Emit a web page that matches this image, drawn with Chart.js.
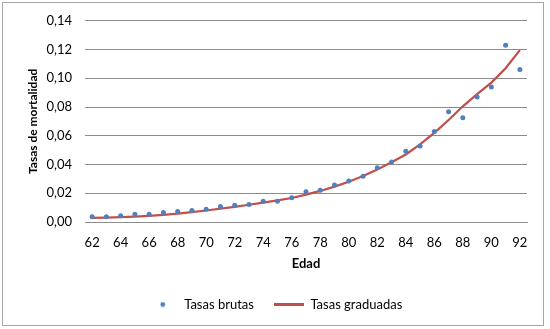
<!DOCTYPE html>
<html>
<head>
<meta charset="utf-8">
<script src="https://cdn.jsdelivr.net/npm/chart.js@4"></script>
<style>
  html, body { margin: 0; padding: 0; background: #fff; }
  #wrap { width: 550px; height: 329px; }
</style>
</head>
<body>
<div id="wrap"><canvas id="grafico" width="550" height="329"></canvas></div>
<script>
// edades 62..92
const edades = [62, 63, 64, 65, 66, 67, 68, 69, 70, 71, 72, 73, 74, 75, 76, 77,
  78, 79, 80, 81, 82, 83, 84, 85, 86, 87, 88, 89, 90, 91, 92];

const tasasBrutas = [0.0036, 0.0036, 0.0043, 0.0054, 0.0054, 0.0066, 0.0073, 0.0080,
  0.0089, 0.0108, 0.0117, 0.0122, 0.0145, 0.0145, 0.0168, 0.0211, 0.0221, 0.0258,
  0.0286, 0.0318, 0.0378, 0.0418, 0.0492, 0.0529, 0.0630, 0.0767, 0.0726, 0.0870,
  0.0939, 0.1230, 0.1061];

const tasasGraduadas = [0.0029, 0.0031, 0.0034, 0.0038, 0.0043, 0.0050, 0.0058, 0.0068,
  0.0080, 0.0093, 0.0106, 0.0120, 0.0135, 0.0150, 0.0167, 0.0190, 0.0216, 0.0246,
  0.0280, 0.0320, 0.0366, 0.0416, 0.0470, 0.0540, 0.0620, 0.0710, 0.0805, 0.0890,
  0.0970, 0.1070, 0.1196];

const AZUL = '#4F81BD';
const ROJO = '#C0504D';
const GRIS = '#8c8c8c';

Chart.defaults.font.family = 'Lato, "DejaVu Sans", sans-serif';
Chart.defaults.font.size = 13;
Chart.defaults.color = '#000';

// marcadores de la leyenda
function marcadorPunto() {
  const c = document.createElement('canvas');
  c.width = 6; c.height = 6;
  const g = c.getContext('2d');
  g.fillStyle = AZUL;
  g.beginPath();
  g.arc(3, 3, 2.4, 0, Math.PI * 2);
  g.fill();
  return c;
}
function marcadorLinea() {
  const c = document.createElement('canvas');
  c.width = 30; c.height = 3;
  const g = c.getContext('2d');
  g.fillStyle = ROJO;
  g.fillRect(0, 0, 30, 3);
  return c;
}

// fondo blanco y marco gris
const marco = {
  id: 'marco',
  beforeDraw(chart) {
    const ctx = chart.ctx;
    ctx.save();
    ctx.fillStyle = '#fff';
    ctx.fillRect(0, 0, chart.width, chart.height);
    ctx.strokeStyle = '#a6a6a6';
    ctx.lineWidth = 1;
    ctx.strokeRect(2.5, 2.5, 541, 323);
    ctx.restore();
  }
};

const coma = v => v.toFixed(2).replace('.', ',');

new Chart(document.getElementById('grafico'), {
  type: 'line',
  data: {
    labels: edades,
    datasets: [
      {
        label: 'Tasas brutas',
        data: tasasBrutas,
        showLine: false,
        pointRadius: 2.5,
        pointBackgroundColor: AZUL,
        pointBorderWidth: 0,
        borderColor: AZUL,
        backgroundColor: AZUL,
        pointStyle: 'circle',
        order: 0
      },
      {
        label: 'Tasas graduadas',
        data: tasasGraduadas,
        borderColor: ROJO,
        backgroundColor: ROJO,
        borderWidth: 2.25,
        pointRadius: 0,
        tension: 0,
        order: 1
      }
    ]
  },
  plugins: [marco],
  options: {
    responsive: false,
    animation: false,
    events: [],
    layout: { padding: { left: 23, right: 23, top: 18, bottom: 8 } },
    plugins: {
      tooltip: { enabled: false },
      legend: {
        position: 'bottom',
        labels: {
          usePointStyle: true,
          pointStyleWidth: 30,
          padding: 20,
          generateLabels(chart) {
            return chart.data.datasets.map((ds, i) => ({
              text: ds.label,
              pointStyle: i === 0 ? marcadorPunto() : marcadorLinea(),
              fillStyle: ds.borderColor,
              strokeStyle: ds.borderColor,
              lineWidth: 0,
              datasetIndex: i
            }));
          }
        }
      }
    },
    scales: {
      x: {
        offset: true,
        afterFit: s => { s.height = 56; },
        grid: { display: false, drawTicks: false, offset: true },
        border: { display: true, color: GRIS },
        ticks: {
          autoSkip: false,
          maxRotation: 0,
          padding: 13,
          callback: (v, i) => (i % 2 === 0 ? edades[i] : '')
        },
        title: {
          display: true,
          text: 'Edad',
          font: { weight: 'bold', size: 13 },
          padding: { top: 0, bottom: 6 }
        }
      },
      y: {
        min: 0,
        max: 0.14,
        afterFit: s => { s.width = 62; },
        grid: { color: GRIS, drawTicks: false },
        border: { display: false },
        ticks: {
          stepSize: 0.02,
          padding: 13,
          callback: v => coma(v)
        },
        title: {
          display: true,
          text: 'Tasas de mortalidad',
          font: { weight: 'bold', size: 12 },
          padding: { top: 3, bottom: 4 }
        }
      }
    }
  }
});
</script>
</body>
</html>
